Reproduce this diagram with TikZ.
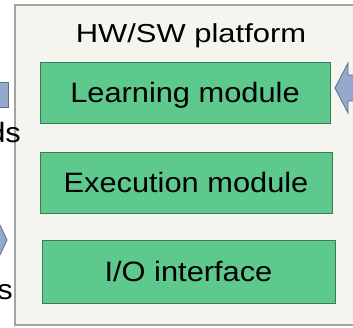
\documentclass[tikz,border=0pt]{standalone}
\usepackage{fontspec}
\setmainfont{Liberation Sans}
\usepackage{tikz}

\definecolor{platfill}{HTML}{F3F5EE}
\definecolor{platedge}{HTML}{A2A4A0}
\definecolor{modfill}{HTML}{5EC98C}
\definecolor{modedge}{HTML}{3E7A55}
\definecolor{arrowfill}{HTML}{95AACB}
\definecolor{arrowedge}{HTML}{5C6F8F}

\begin{document}
\begin{tikzpicture}[x=1pt,y=-1pt,
    module/.style={draw=modedge, fill=modfill, line width=1pt, inner sep=0pt,
      text height=20pt, text depth=0pt, font=\fontsize{28}{30}\selectfont},
    sidetext/.style={anchor=base east, inner sep=0pt, font=\fontsize{28}{30}\selectfont},
    blockarrow/.style={draw=arrowedge, fill=arrowfill, line width=0.8pt}]
  \useasboundingbox (0,0) rectangle (353,327);

  % platform frame
  \draw[fill=platfill, draw=platedge, line width=1.3pt] (15,5) rectangle (370,325);
  \node[anchor=base, inner sep=0pt, font=\fontsize{26}{28}\selectfont] (title) at (191,42)
    {\scalebox{1.19}[1]{HW/SW platform}};

  % modules
  \node[module, minimum width=290pt, minimum height=61pt] (learn) at (185,92.5)
    {\scalebox{1.1}[1]{Learning module}};
  \node[module, minimum width=292pt, minimum height=61pt] (exec) at (186,182.5)
    {\scalebox{1.1}[1]{Execution module}};
  \node[module, minimum width=293pt, minimum height=63pt] (io) at (188.5,271.5)
    {\scalebox{1.1}[1]{I/O interface}};

  % arrows cut at the edges
  \draw[blockarrow] (-20,82) rectangle (8,107);
  \node[sidetext] (cmds) at (21,142) {\scalebox{1.1}[1]{ds}};
  \draw[blockarrow] (-30,205) -- (-10,205) -- (-10,225) -- (0,225) -- (7,240)
    -- (0,255) -- (-10,255) -- (-10,275) -- (-30,275) -- cycle;
  \node[sidetext] (sens) at (13,299) {\scalebox{1.1}[1]{s}};
  \draw[blockarrow] (335,88) -- (348,63) -- (348,75) -- (370,75) -- (370,101)
    -- (348,101) -- (348,113) -- cycle;
\end{tikzpicture}
\end{document}
